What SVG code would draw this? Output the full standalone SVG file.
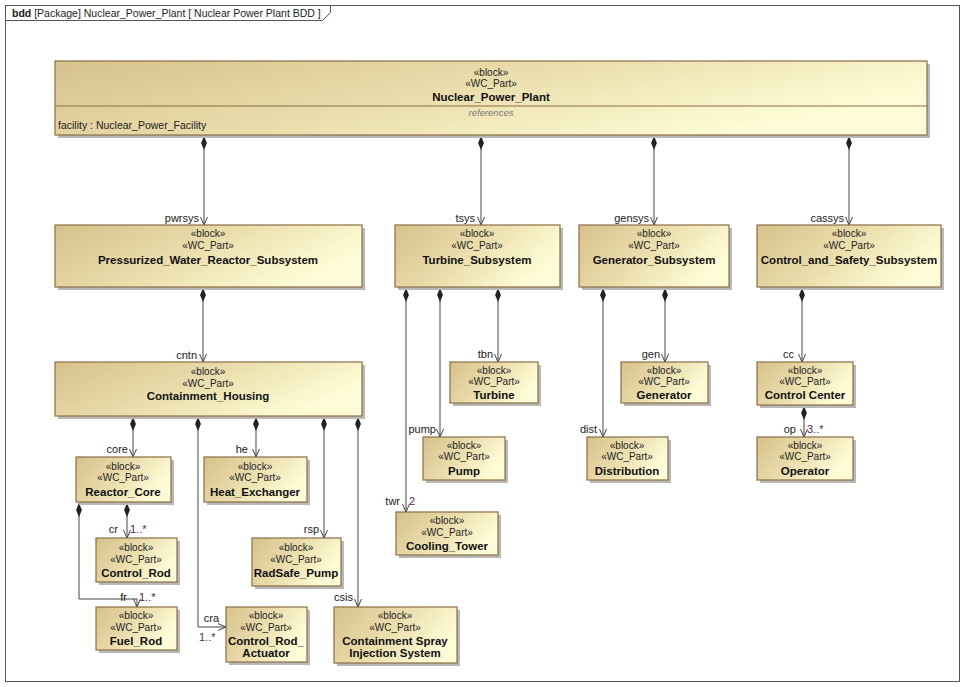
<svg xmlns="http://www.w3.org/2000/svg" width="965" height="687" viewBox="0 0 965 687">
<defs>
<linearGradient id="g" x1="0" y1="0" x2="1" y2="0.4">
<stop offset="0" stop-color="#d6c18b"/>
<stop offset="0.55" stop-color="#ebdfae"/>
<stop offset="1" stop-color="#fefcd6"/>
</linearGradient>
<marker id="dia" markerUnits="userSpaceOnUse" markerWidth="14" markerHeight="8" refX="0" refY="3" orient="auto" viewBox="0 0 12 6">
<path d="M0,3 L6,0.5 L12,3 L6,5.5 Z" fill="#222"/>
</marker>
<marker id="arr" markerUnits="userSpaceOnUse" markerWidth="10" markerHeight="10" refX="8" refY="4" orient="auto" viewBox="0 0 10 8">
<path d="M0,0.5 L8,4 L0,7.5" fill="none" stroke="#444" stroke-width="1"/>
</marker>
</defs>
<style>
.sh{fill:#b8b8b8;}
.bx{fill:url(#g);stroke:#8a6e44;stroke-width:1.2;}
.st{font-family:"Liberation Sans",Arial,sans-serif;font-size:10px;fill:#222;text-anchor:middle;}
.nm{font-family:"Liberation Sans",Arial,sans-serif;font-size:11.5px;font-weight:bold;fill:#111;text-anchor:middle;}
.rl{font-family:"Liberation Sans",Arial,sans-serif;font-size:11px;fill:#222;text-anchor:end;}
.ml{font-family:"Liberation Sans",Arial,sans-serif;font-size:11px;fill:#5a1a5e;}
.cn{fill:none;stroke:#444;stroke-width:1;marker-start:url(#dia);marker-end:url(#arr);}
.tx{font-family:"Liberation Sans",Arial,sans-serif;font-size:10.5px;fill:#222;}
</style>
<rect x="0" y="0" width="965" height="687" fill="#ffffff"/>
<g id="frame">
<rect x="5.5" y="5.5" width="954" height="676" fill="none" stroke="#555" stroke-width="1"/>
<path d="M5.5,20.5 L322.5,20.5 L330.5,12.5 L330.5,5.5" fill="none" stroke="#555" stroke-width="1"/>
<text x="12" y="17" class="tx"><tspan font-weight="bold">bdd</tspan> [Package] Nuclear_Power_Plant [ Nuclear Power Plant BDD ]</text>
</g>
<g id="connectors">
<path class="cn" d="M204,136 L204,225"/>
<path class="cn" d="M481,136 L481,225"/>
<path class="cn" d="M654,136 L654,225"/>
<path class="cn" d="M849,136 L849,225"/>
<path class="cn" d="M203,288 L203,362"/>
<path class="cn" d="M133,417 L133,457"/>
<path class="cn" d="M198,417 L198,627 L226,627"/>
<path class="cn" d="M256,417 L256,457"/>
<path class="cn" d="M324,417 L324,538"/>
<path class="cn" d="M358,417 L358,607"/>
<path class="cn" d="M127,503 L127,538"/>
<path class="cn" d="M79,503 L79,599 L137,599 L137,607"/>
<path class="cn" d="M406,288 L406,512"/>
<path class="cn" d="M440,288 L440,437"/>
<path class="cn" d="M498,288 L498,362"/>
<path class="cn" d="M603,288 L603,437"/>
<path class="cn" d="M665,288 L665,362"/>
<path class="cn" d="M802,288 L802,362"/>
<path class="cn" d="M804,406 L804,437"/>
<text x="199" y="222" class="rl">pwrsys</text>
<text x="475" y="222" class="rl">tsys</text>
<text x="649" y="222" class="rl">gensys</text>
<text x="844" y="222" class="rl">cassys</text>
<text x="197" y="359" class="rl">cntn</text>
<text x="128" y="453" class="rl">core</text>
<text x="248" y="453" class="rl">he</text>
<text x="493" y="358" class="rl">tbn</text>
<text x="660" y="358" class="rl">gen</text>
<text x="794" y="358" class="rl">cc</text>
<text x="436" y="433" class="rl">pump</text>
<text x="597" y="433" class="rl">dist</text>
<text x="796" y="433" class="rl">op</text>
<text x="807" y="433" class="ml">3..*</text>
<text x="118" y="533" class="rl">cr</text>
<text x="130" y="533" class="ml">1..*</text>
<text x="127" y="601" class="rl">fr</text>
<text x="139" y="601" class="ml">1..*</text>
<text x="319" y="533" class="rl">rsp</text>
<text x="219" y="622" class="rl">cra</text>
<text x="199" y="641" class="ml">1..*</text>
<text x="353" y="601" class="rl">csis</text>
<text x="400" y="505" class="rl">twr</text>
<text x="409" y="505" class="ml">2</text>
</g>
<g id="Nuclear_Power_Plant">
<rect class="sh" x="58" y="64" width="872" height="74"/>
<rect class="bx" x="55" y="61" width="872" height="74"/>
<line x1="55" y1="106" x2="927" y2="106" stroke="#8a6e44" stroke-width="1"/>
<text x="491" y="76" class="st">«block»</text>
<text x="491" y="87" class="st">«WC_Part»</text>
<text x="491" y="101" class="nm">Nuclear_Power_Plant</text>
<text x="491" y="116" class="st" style="font-style:italic;fill:#777;font-size:9.5px">references</text>
<text x="58" y="129" class="tx">facility : Nuclear_Power_Facility</text>
</g>
<g id="Pressurized_Water_Reactor_Subsystem">
<rect class="sh" x="58" y="228" width="307" height="62"/>
<rect class="bx" x="55" y="225" width="307" height="62"/>
<text x="208" y="237" class="st">«block»</text>
<text x="208" y="249" class="st">«WC_Part»</text>
<text x="208" y="264" class="nm">Pressurized_Water_Reactor_Subsystem</text>
</g>
<g id="Turbine_Subsystem">
<rect class="sh" x="398" y="228" width="165" height="62"/>
<rect class="bx" x="395" y="225" width="165" height="62"/>
<text x="477" y="237" class="st">«block»</text>
<text x="477" y="249" class="st">«WC_Part»</text>
<text x="477" y="264" class="nm">Turbine_Subsystem</text>
</g>
<g id="Generator_Subsystem">
<rect class="sh" x="582" y="228" width="150" height="62"/>
<rect class="bx" x="579" y="225" width="150" height="62"/>
<text x="654" y="237" class="st">«block»</text>
<text x="654" y="249" class="st">«WC_Part»</text>
<text x="654" y="264" class="nm">Generator_Subsystem</text>
</g>
<g id="Control_and_Safety_Subsystem">
<rect class="sh" x="760" y="228" width="184" height="62"/>
<rect class="bx" x="757" y="225" width="184" height="62"/>
<text x="849" y="237" class="st">«block»</text>
<text x="849" y="249" class="st">«WC_Part»</text>
<text x="849" y="264" class="nm">Control_and_Safety_Subsystem</text>
</g>
<g id="Containment_Housing">
<rect class="sh" x="58" y="365" width="307" height="54"/>
<rect class="bx" x="55" y="362" width="307" height="54"/>
<text x="208" y="375" class="st">«block»</text>
<text x="208" y="387" class="st">«WC_Part»</text>
<text x="208" y="400" class="nm">Containment_Housing</text>
</g>
<g id="Reactor_Core">
<rect class="sh" x="79" y="460" width="95" height="45"/>
<rect class="bx" x="76" y="457" width="95" height="45"/>
<text x="123" y="470" class="st">«block»</text>
<text x="123" y="481" class="st">«WC_Part»</text>
<text x="123" y="496" class="nm">Reactor_Core</text>
</g>
<g id="Heat_Exchanger">
<rect class="sh" x="207" y="460" width="103" height="45"/>
<rect class="bx" x="204" y="457" width="103" height="45"/>
<text x="255" y="470" class="st">«block»</text>
<text x="255" y="481" class="st">«WC_Part»</text>
<text x="255" y="496" class="nm">Heat_Exchanger</text>
</g>
<g id="Control_Rod">
<rect class="sh" x="99" y="541" width="81" height="44"/>
<rect class="bx" x="96" y="538" width="81" height="44"/>
<text x="136" y="551" class="st">«block»</text>
<text x="136" y="563" class="st">«WC_Part»</text>
<text x="136" y="577" class="nm">Control_Rod</text>
</g>
<g id="Fuel_Rod">
<rect class="sh" x="99" y="610" width="81" height="43"/>
<rect class="bx" x="96" y="607" width="81" height="43"/>
<text x="136" y="619" class="st">«block»</text>
<text x="136" y="631" class="st">«WC_Part»</text>
<text x="136" y="645" class="nm">Fuel_Rod</text>
</g>
<g id="RadSafe_Pump">
<rect class="sh" x="255" y="541" width="89" height="48"/>
<rect class="bx" x="252" y="538" width="89" height="48"/>
<text x="296" y="551" class="st">«block»</text>
<text x="296" y="563" class="st">«WC_Part»</text>
<text x="296" y="577" class="nm">RadSafe_Pump</text>
</g>
<g id="Control_Rod_Actuator">
<rect class="sh" x="229" y="610" width="81" height="55"/>
<rect class="bx" x="226" y="607" width="81" height="55"/>
<text x="266" y="619" class="st">«block»</text>
<text x="266" y="631" class="st">«WC_Part»</text>
<text x="266" y="645" class="nm">Control_Rod_</text>
<text x="266" y="657" class="nm">Actuator</text>
</g>
<g id="Containment_Spray_Injection_System">
<rect class="sh" x="337" y="610" width="123" height="56"/>
<rect class="bx" x="334" y="607" width="123" height="56"/>
<text x="395" y="619" class="st">«block»</text>
<text x="395" y="631" class="st">«WC_Part»</text>
<text x="395" y="645" class="nm">Containment Spray</text>
<text x="395" y="657" class="nm">Injection System</text>
</g>
<g id="Turbine">
<rect class="sh" x="453" y="365" width="88" height="41"/>
<rect class="bx" x="450" y="362" width="88" height="41"/>
<text x="494" y="374" class="st">«block»</text>
<text x="494" y="385" class="st">«WC_Part»</text>
<text x="494" y="399" class="nm">Turbine</text>
</g>
<g id="Pump">
<rect class="sh" x="426" y="440" width="82" height="43"/>
<rect class="bx" x="423" y="437" width="82" height="43"/>
<text x="464" y="449" class="st">«block»</text>
<text x="464" y="460" class="st">«WC_Part»</text>
<text x="464" y="475" class="nm">Pump</text>
</g>
<g id="Cooling_Tower">
<rect class="sh" x="399" y="515" width="102" height="43"/>
<rect class="bx" x="396" y="512" width="102" height="43"/>
<text x="447" y="524" class="st">«block»</text>
<text x="447" y="536" class="st">«WC_Part»</text>
<text x="447" y="550" class="nm">Cooling_Tower</text>
</g>
<g id="Generator">
<rect class="sh" x="624" y="365" width="87" height="41"/>
<rect class="bx" x="621" y="362" width="87" height="41"/>
<text x="664" y="374" class="st">«block»</text>
<text x="664" y="385" class="st">«WC_Part»</text>
<text x="664" y="399" class="nm">Generator</text>
</g>
<g id="Distribution">
<rect class="sh" x="590" y="440" width="81" height="43"/>
<rect class="bx" x="587" y="437" width="81" height="43"/>
<text x="627" y="449" class="st">«block»</text>
<text x="627" y="460" class="st">«WC_Part»</text>
<text x="627" y="475" class="nm">Distribution</text>
</g>
<g id="Control_Center">
<rect class="sh" x="760" y="365" width="96" height="43"/>
<rect class="bx" x="757" y="362" width="96" height="43"/>
<text x="805" y="374" class="st">«block»</text>
<text x="805" y="385" class="st">«WC_Part»</text>
<text x="805" y="399" class="nm">Control Center</text>
</g>
<g id="Operator">
<rect class="sh" x="760" y="440" width="96" height="43"/>
<rect class="bx" x="757" y="437" width="96" height="43"/>
<text x="805" y="449" class="st">«block»</text>
<text x="805" y="460" class="st">«WC_Part»</text>
<text x="805" y="475" class="nm">Operator</text>
</g>
</svg>
